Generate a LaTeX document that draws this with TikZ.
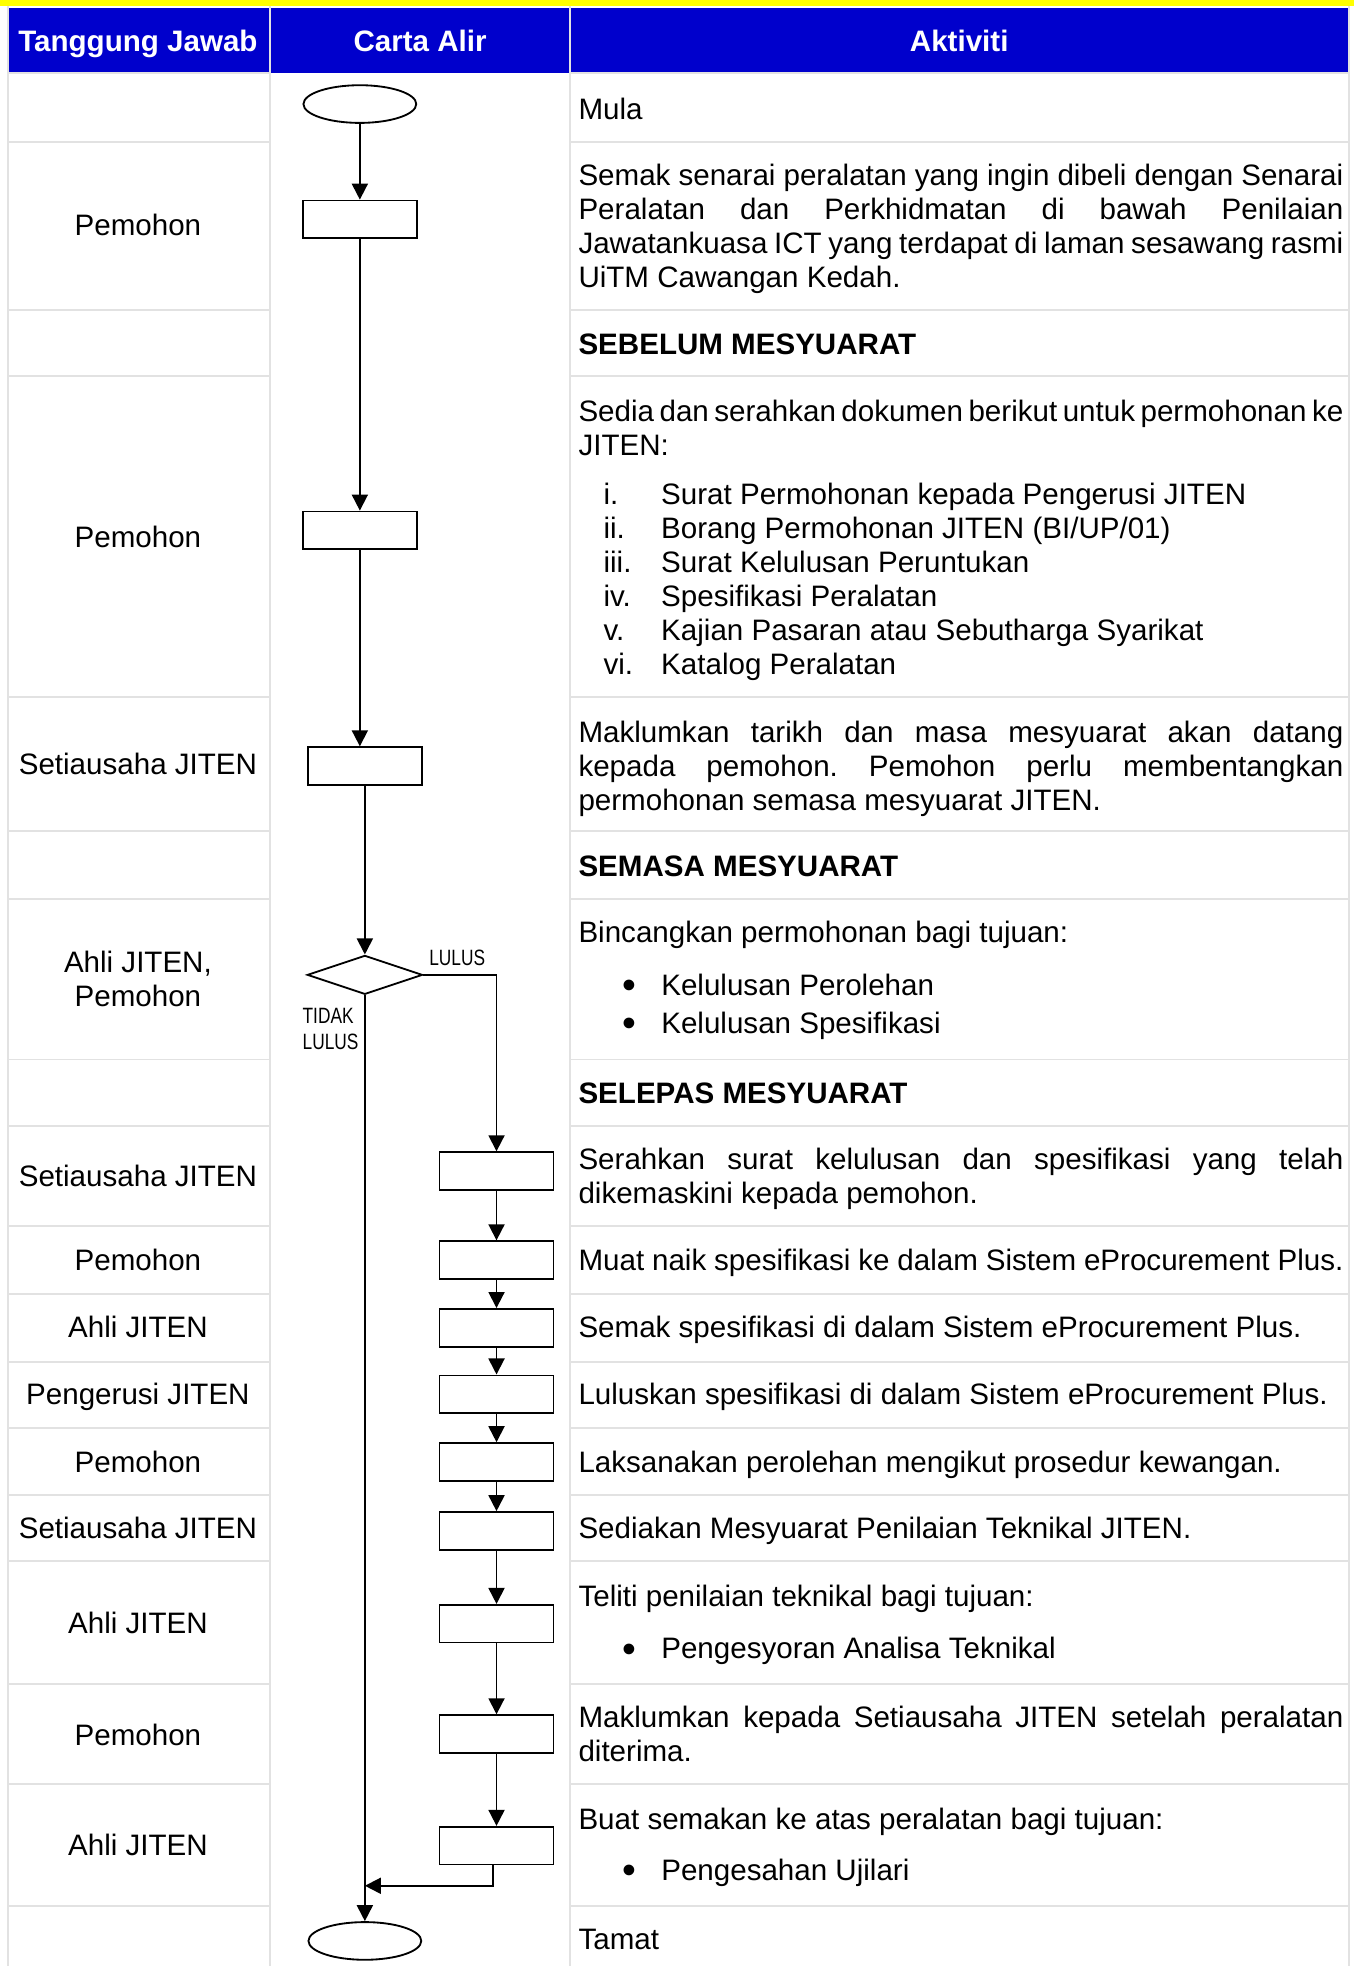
\documentclass[tikz,border=0pt]{standalone}
\usepackage{fontspec}
\setmainfont{Liberation Sans}
\newfontfamily\narrowfont[FakeStretch=0.78]{Liberation Sans}
\usetikzlibrary{arrows.meta,shapes.geometric}
\definecolor{hdrblue}{RGB}{0,0,204}
\definecolor{hdryellow}{RGB}{255,255,0}
\definecolor{gridgray}{RGB}{226,226,226}
\hyphenpenalty=10000
\frenchspacing
\newcommand\bigdot{\makebox[15.8pt][l]{\raisebox{-1.3pt}{\fontsize{16}{16}\selectfont •}}}

\begin{document}
\begin{tikzpicture}[
  x=0.509pt,y=-0.509pt,
  every node/.style={font=\fontsize{12}{13.8}\selectfont,inner sep=0pt},
  gridline/.style={draw=gridgray,line width=0.8pt},
  hdr/.style={anchor=base,text=white,font=\fontsize{12}{13.8}\selectfont\bfseries},
  who/.style={anchor=base,align=center},
  act/.style={anchor=base west,text width=310.5pt,align=justify},
  head/.style={anchor=base west,font=\fontsize{12}{13.8}\selectfont\bfseries},
  flow/.style={line width=0.75pt},
  proc/.style={draw,flow,fill=white,minimum width=46.3pt,minimum height=15.3pt},
  term/.style={draw,flow,ellipse,minimum width=45.8pt,minimum height=15.3pt},
  decide/.style={draw,flow,diamond,minimum width=46.8pt,minimum height=15.8pt},
  arr/.style={flow,-{Triangle[width=6.5pt,length=6.5pt]}},
  lbl/.style={font=\narrowfont\fontsize{9}{10.6}\selectfont,anchor=base west,align=left}]
  \useasboundingbox (0,0) rectangle (1080,1568);

  % table frame: yellow strip, blue header, light grid
  \fill[hdryellow] (0,0) rectangle (1080,5);
  \fill[hdrblue] (6,6) rectangle (1075,58);
  \foreach \x in {6,215.5,454.5,1075.5}
    \draw[gridline] (\x,5) -- (\x,1568);
  \foreach \y in {58,113,247,300,556,663,717,845,898,978,1032,1086,1139,1192,1245,1343,1423,1520}
    \draw[gridline] (6,\y) -- (215.5,\y) (454.5,\y) -- (1075.5,\y);
  \node[hdr] (hwho) at (110,41) {Tanggung Jawab};
  \node[hdr] (hflow) at (335,41) {Carta Alir};
  \node[hdr] (hact) at (765,41) {Aktiviti};

  % Tanggung Jawab
  \foreach \y/\w [count=\i] in {188/Pemohon,437/Pemohon,618/Setiausaha JITEN,
      946/Setiausaha JITEN,1013/Pemohon,1067/Ahli JITEN,1120/Pengerusi JITEN,
      1174/Pemohon,1227/Setiausaha JITEN,1303/Ahli JITEN,1392/Pemohon,1480/Ahli JITEN}
    \node[who] (who\i) at (110,\y) {\w};
  % multi-line nodes sit on their last baseline
  \node[who] (whomeet) at (110,803) {Ahli JITEN,\\Pemohon};

  % Aktiviti
  \node[act] (amula) at (461,95) {Mula};
  \node[act] (asemak) at (461,148) {Semak senarai peralatan yang ingin dibeli dengan Senarai\linebreak
    Peralatan dan Perkhidmatan di bawah Penilaian\linebreak
    Jawatankuasa ICT yang terdapat di laman sesawang rasmi\linebreak
    UiTM Cawangan Kedah.};
  \node[head] (hsebelum) at (461,283) {SEBELUM MESYUARAT};
  \node[act] (asedia) at (461,336) {Sedia dan serahkan dokumen berikut untuk permohonan ke\linebreak JITEN:};
  \node[anchor=base west,align=left] (alist) at (481,538) {%
    \makebox[23.4pt][l]{i.}Surat Permohonan kepada Pengerusi JITEN\\
    \makebox[23.4pt][l]{ii.}Borang Permohonan JITEN (BI/UP/01)\\
    \makebox[23.4pt][l]{iii.}Surat Kelulusan Peruntukan\\
    \makebox[23.4pt][l]{iv.}Spesifikasi Peralatan\\
    \makebox[23.4pt][l]{v.}Kajian Pasaran atau Sebutharga Syarikat\\
    \makebox[23.4pt][l]{vi.}Katalog Peralatan};
  \node[act] (atarikh) at (461,592) {Maklumkan tarikh dan masa mesyuarat akan datang\linebreak
    kepada pemohon. Pemohon perlu membentangkan\linebreak
    permohonan semasa mesyuarat JITEN.};
  \node[head] (hsemasa) at (461,699) {SEMASA MESYUARAT};
  \node[act] (abincang) at (461,752) {Bincangkan permohonan bagi tujuan:};
  \foreach \y/\t [count=\i] in {794/Kelulusan Perolehan,824/Kelulusan Spesifikasi,
      1323/Pengesyoran Analisa Teknikal,1500/Pengesahan Ujilari}
    \node[anchor=base west] (pt\i) at (496,\y) {\bigdot\t};
  \node[head] (hselepas) at (461,880) {SELEPAS MESYUARAT};
  \node[act] (aserah) at (461,933) {Serahkan surat kelulusan dan spesifikasi yang telah\linebreak
    dikemaskini kepada pemohon.};
  \foreach \y/\t [count=\i] in {1013/Muat naik spesifikasi ke dalam Sistem eProcurement Plus.,
      1067/Semak spesifikasi di dalam Sistem eProcurement Plus.,
      1120/Luluskan spesifikasi di dalam Sistem eProcurement Plus.,
      1174/Laksanakan perolehan mengikut prosedur kewangan.,
      1227/Sediakan Mesyuarat Penilaian Teknikal JITEN.}
    \node[act] (astep\i) at (461,\y) {\t};
  \node[act] (ateliti) at (461,1281) {Teliti penilaian teknikal bagi tujuan:};
  \node[act] (aterima) at (461,1378) {Maklumkan kepada Setiausaha JITEN setelah peralatan\linebreak
    diterima.};
  \node[act] (abuat) at (461,1459) {Buat semakan ke atas peralatan bagi tujuan:};
  \node[act] (atamat) at (461,1555) {Tamat};

  % Carta Alir
  \node[term] (mula) at (287,83) {};
  \node[proc] (b1) at (287,175) {};
  \node[proc] (b2) at (287,423) {};
  \node[proc] (b3) at (291,611) {};
  \node[decide] (dec) at (291,777.5) {};
  \foreach \y [count=\i from 4] in {934,1005,1059,1112,1166,1221,1295,1383,1472}
    \node[proc] (b\i) at (396,\y) {};
  \node[term] (tamat) at (291,1548) {};
  \coordinate (merge) at (291,1504);

  \draw[arr] (mula) -- (b1);
  \draw[arr] (b1) -- (b2);
  \draw[arr] (b2.south) -- (b2.south |- b3.north);
  \draw[arr] (b3) -- (dec);
  \draw[arr] (dec.east) -| (b4.north);
  \draw[arr] (dec.south) -- (tamat.north);
  \foreach \i [evaluate=\i as \j using int(\i+1)] in {4,...,11}
    \draw[arr] (b\i) -- (b\j);
  \draw[arr] ([xshift=-1.5pt]b12.south) |- (merge);
  \node[lbl] (lulus) at (342,770) {LULUS};
  \node[lbl] (tidak) at (241,837) {TIDAK\\LULUS};
\end{tikzpicture}
\end{document}
